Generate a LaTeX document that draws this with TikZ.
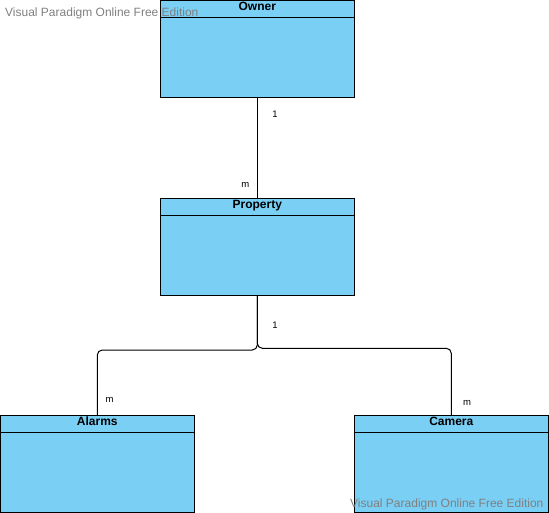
\documentclass[tikz,border=0pt]{standalone}
\usepackage{fontspec}
\setmainfont{Liberation Sans}
\definecolor{clsfill}{RGB}{122,207,245}
\definecolor{wm}{RGB}{128,128,128}
\begin{document}
\begin{tikzpicture}[x=1pt,y=-1pt,
  cls/.style={draw=black,fill=clsfill,line width=1pt,rectangle,minimum width=194pt,minimum height=97pt,inner sep=0pt,outer sep=0pt},
  clsname/.style={font=\fontsize{12}{14}\selectfont\bfseries,inner sep=0pt,anchor=base},
  mult/.style={font=\fontsize{9.5}{11}\selectfont,inner sep=0pt,anchor=base},
  conn/.style={draw=black,line width=1pt,rounded corners=5pt},
  wmark/.style={font=\fontsize{12}{14}\selectfont,text=wm,inner sep=0pt,anchor=base west}]
\useasboundingbox (0,0) rectangle (549,513);
% classes
\node[cls] (owner) at (257.3,48.7) {};
\node[cls] (property) at (257.3,246.7) {};
\node[cls] (alarms) at (97.3,464) {};
\node[cls] (camera) at (451.3,464) {};
\foreach \n in {owner,property,alarms,camera}{
  \draw[line width=1pt] ([yshift=-17pt]\n.north west) -- ([yshift=-17pt]\n.north east);
}
\node[clsname] (ownerT) at ([yshift=-10pt]owner.north) {Owner};
\node[clsname] (propertyT) at ([yshift=-10.2pt]property.north) {Property};
\node[clsname] (alarmsT) at ([yshift=-10.2pt]alarms.north) {Alarms};
\node[clsname] (cameraT) at ([yshift=-10.2pt]camera.north) {Camera};
% connectors
\coordinate (jl1) at (257.3,350);
\coordinate (jl2) at (97.3,350);
\coordinate (jr1) at (257.3,348.3);
\coordinate (jr2) at (451.3,348.3);
\draw[conn] (owner.south) -- (property.north);
\draw[conn] (property.south) -- (jl1) -- (jl2) -- (alarms.north);
\draw[conn] (property.south) -- (jr1) -- (jr2) -- (camera.north);
% multiplicities
\node[mult] (m1) at (275,118) {1};
\node[mult] (m2) at (245.3,187.7) {m};
\node[mult] (m3) at (275,328) {1};
\node[mult] (m4) at (109.5,402.5) {m};
\node[mult] (m5) at (467,405.5) {m};
% watermarks
\node[wmark] (wm1) at (5,16.2) {Visual Paradigm Online Free Edition};
\node[wmark] (wm2) at (350,507.5) {Visual Paradigm Online Free Edition};
\end{tikzpicture}
\end{document}
